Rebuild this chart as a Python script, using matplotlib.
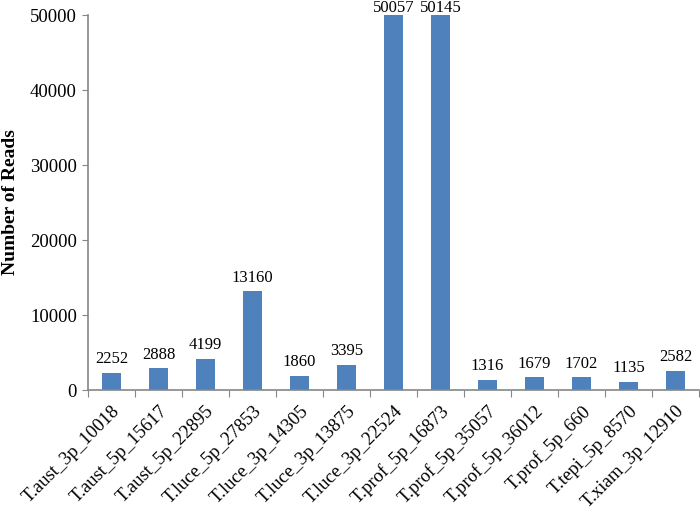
import matplotlib
matplotlib.use('Agg')
import matplotlib.pyplot as plt

# miRNA names and read counts
names = ['T.aust_3p_10018', 'T.aust_5p_15617', 'T.aust_5p_22895', 'T.luce_5p_27853',
         'T.luce_3p_14305', 'T.luce_3p_13875', 'T.luce_3p_22524', 'T.prof_5p_16873',
         'T.prof_5p_35057', 'T.prof_5p_36012', 'T.prof_5p_660', 'T.tepi_5p_8570',
         'T.xiam_3p_12910']
reads = [2252, 2888, 4199, 13160, 1860, 3395, 50057, 50145, 1316, 1679, 1702, 1135, 2582]

plt.rcParams['font.family'] = ['Liberation Serif', 'DejaVu Serif']

fig = plt.figure(figsize=(7, 5.14), dpi=100)
ax = fig.add_axes([0.1257, 0.2412, 0.873, 0.7296])

x = range(len(names))
ymax = 50000
ax.bar(x, reads, width=0.4, color='#4F81BD')
for i, v in enumerate(reads):
    if v > ymax:
        # bar is clipped at the top of the axis, label sits just above it
        ax.annotate(str(v), (i, ymax), xytext=(0, 2), textcoords='offset points',
                    ha='center', va='baseline', fontsize=12, annotation_clip=False)
    else:
        ax.annotate(str(v), (i, v), xytext=(0, 7), textcoords='offset points',
                    ha='center', va='baseline', fontsize=12)

ax.set_xlim(-0.5, len(names) - 0.5)
ax.set_ylim(0, ymax)
ax.set_yticks(range(0, ymax + 1, 10000))
ax.tick_params(axis='y', labelsize=13.5, length=4, color='#868686', pad=4)
ax.set_xticks([i - 0.5 for i in range(len(names) + 1)], minor=False)
ax.set_xticklabels([])
ax.set_xticks(list(x), minor=True)
ax.set_xticklabels(names, minor=True, rotation=45, ha='right', rotation_mode='anchor',
                   fontsize=13.5)
ax.tick_params(axis='x', which='major', length=5, color='#868686')
ax.tick_params(axis='x', which='minor', length=0, pad=9)

for s in ['top', 'right']:
    ax.spines[s].set_visible(False)
ax.spines['left'].set_color('#868686')
ax.spines['bottom'].set_color('#868686')
ax.spines['left'].set_linewidth(1.2)
ax.spines['bottom'].set_linewidth(1.2)

ax.set_ylabel('Number of Reads', fontsize=14, fontweight='bold', labelpad=8)

fig.savefig('out.png', dpi=100)
